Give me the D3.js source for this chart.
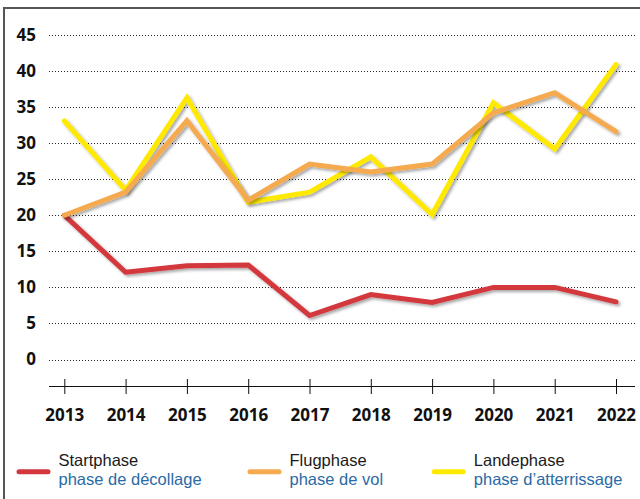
<!DOCTYPE html>
<html>
<head>
<meta charset="utf-8">
<script src="https://cdn.jsdelivr.net/npm/d3@7"></script>
<style>
  body { margin: 0; background: #fff; }
  svg { display: block; font-family: "Open Sans", "Noto Sans", sans-serif; }
</style>
</head>
<body>
<div id="chart"></div>
<script>
// data
let years = [2013, 2014, 2015, 2016, 2017, 2018, 2019, 2020, 2021, 2022];
let startphase = [20, 12.1, 13.0, 13.1, 6.1, 9.0, 7.9, 10.0, 10.0, 8.0];
let flugphase = [20, 23.2, 33.1, 22.1, 27.1, 26.0, 27.1, 34.2, 37.0, 31.6];
let landephase = [33.1, 23.5, 36.3, 21.8, 23.2, 28.1, 20.1, 35.6, 29.2, 40.9];
let yTicks = [0, 5, 10, 15, 20, 25, 30, 35, 40, 45];

let seriesNames = ["Startphase", "Flugphase", "Landephase"];
let seriesNamesFr = ["phase de décollage", "phase de vol", "phase d\u2019atterrissage"];
let colors = ["#d3373d", "#f5aa4f", "#ffe900"];

let width = 640, height = 499;

let svg = d3.select("#chart").append("svg")
    .attr("width", width)
    .attr("height", height);

// shadow under the lines
let defs = svg.append("defs");
defs.append("filter")
    .attr("id", "shadow")
    .attr("x", "-10%").attr("y", "-10%")
    .attr("width", "120%").attr("height", "130%")
    .append("feDropShadow")
    .attr("dx", 2).attr("dy", 2)
    .attr("stdDeviation", 1.5)
    .attr("flood-color", "#000")
    .attr("flood-opacity", 0.35);

// frame (top + left)
svg.append("path")
    .attr("d", "M4,499 V8 H640")
    .attr("fill", "none")
    .attr("stroke", "#555")
    .attr("stroke-width", 2);

// scales
let x = d3.scalePoint()
    .domain(years)
    .range([64.3, 616]);

let y = d3.scaleLinear()
    .domain([0, 45])
    .range([359.5, 35]);

// gridlines
svg.append("g")
    .selectAll("line")
    .data(yTicks)
    .join("line")
    .attr("x1", 49)
    .attr("x2", 636)
    .attr("y1", d => Math.round(y(d)) + 0.5)
    .attr("y2", d => Math.round(y(d)) + 0.5)
    .attr("stroke", "#222")
    .attr("stroke-width", 1)
    .attr("stroke-dasharray", "1,2");

// y labels
svg.append("g")
    .selectAll("text")
    .data(yTicks)
    .join("text")
    .attr("x", 36)
    .attr("y", d => y(d) + 5.8)
    .attr("text-anchor", "end")
    .attr("font-size", 17)
    .attr("font-weight", "bold")
    .attr("fill", "#111")
    .text(d => d);

// x axis
let xAxis = d3.axisBottom(x)
    .tickSizeInner(0)
    .tickSizeOuter(0)
    .tickPadding(0);

let axisG = svg.append("g")
    .attr("class", "x-axis")
    .attr("transform", "translate(0,386.5)")
    .call(xAxis);

axisG.select(".domain")
    .attr("d", "M49,0H635")
    .attr("stroke", "#111");

axisG.selectAll(".tick line")
    .attr("y1", -7.5)
    .attr("y2", 7.5)
    .attr("stroke", "#111");

axisG.selectAll(".tick text")
    .attr("y", 34.5)
    .attr("dy", 0)
    .attr("font-family", "\"Open Sans\", \"Noto Sans\", sans-serif")
    .attr("font-size", 17)
    .attr("font-weight", "bold")
    .attr("fill", "#111");

// lines
let line = d3.line()
    .x((d, i) => x(years[i]))
    .y(d => y(d));

let drawOrder = [
    {values: startphase, color: colors[0]},
    {values: landephase, color: colors[2]},
    {values: flugphase, color: colors[1]}
];

svg.append("g")
    .selectAll("path")
    .data(drawOrder)
    .join("path")
    .attr("d", d => line(d.values))
    .attr("fill", "none")
    .attr("stroke", d => d.color)
    .attr("stroke-width", 5)
    .attr("stroke-linejoin", "miter")
    .attr("stroke-linecap", "round")
    .attr("filter", "url(#shadow)");

// legend
let legendX = [19, 250, 434.3];
let legend = svg.append("g")
    .selectAll("g")
    .data(seriesNames)
    .join("g")
    .attr("transform", (d, i) => `translate(${legendX[i]},0)`);

legend.append("line")
    .attr("x1", 0)
    .attr("x2", 29)
    .attr("y1", 471.7)
    .attr("y2", 471.7)
    .attr("stroke", (d, i) => colors[i])
    .attr("stroke-width", 5)
    .attr("stroke-linecap", "round");

// two-line label: German name, then French in blue
// (tighter font metrics so the two lines don't collide)
let legendFont = "\"Liberation Sans\", Arial, sans-serif";

legend.append("text")
    .attr("x", 39.5)
    .attr("y", 466.3)
    .attr("font-family", legendFont)
    .attr("font-size", 16.5)
    .attr("fill", "#1a1a1a")
    .text(d => d);

legend.append("text")
    .attr("x", 39.5)
    .attr("y", 485)
    .attr("font-family", legendFont)
    .attr("font-size", 16.5)
    .attr("fill", "#2a6aa6")
    .text((d, i) => seriesNamesFr[i]);
</script>
</body>
</html>
